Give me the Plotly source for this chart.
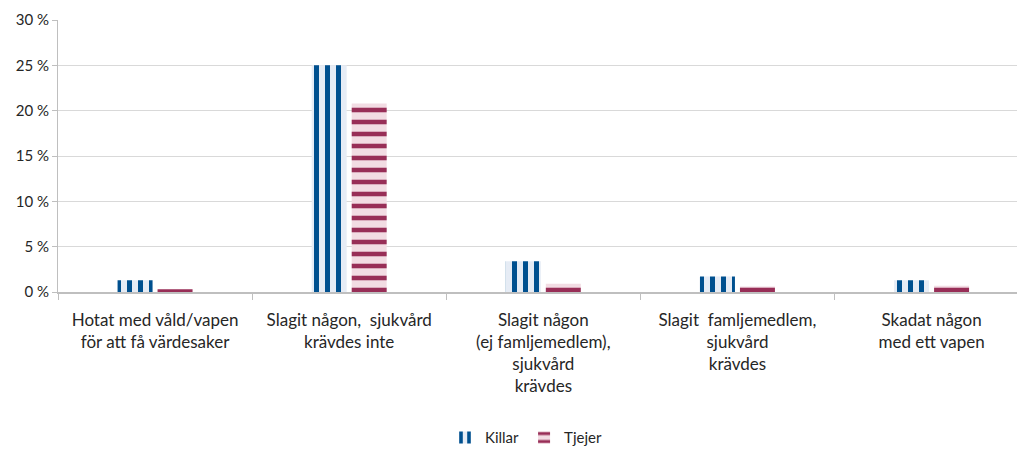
import plotly.graph_objects as go

categories = [
    "Hotat med våld/vapen<br>för att få värdesaker",
    "Slagit någon,  sjukvård<br>krävdes inte",
    "Slagit någon<br>(ej famljemedlem),<br>sjukvård<br>krävdes",
    "Slagit  famljemedlem,<br>sjukvård<br>krävdes",
    "Skadat någon<br>med ett vapen",
]
killar = [1.3, 25.0, 3.4, 1.7, 1.3]
tjejer = [0.3, 20.8, 0.9, 0.6, 0.7]
y_ticks = [0, 5, 10, 15, 20, 25, 30]
y_tick_labels = [f"{v} %" for v in y_ticks]

font_family = "Lato, 'Open Sans', sans-serif"

fig = go.Figure()
fig.add_trace(go.Bar(
    name="Killar",
    x=categories,
    y=killar,
    marker=dict(
        color="#00508F",
        line=dict(width=0),
        pattern=dict(shape="|", size=11, solidity=0.45,
                     fgcolor="#00508F", bgcolor="#E6ECF5", fillmode="replace"),
    ),
))
fig.add_trace(go.Bar(
    name="Tjejer",
    x=categories,
    y=tjejer,
    marker=dict(
        color="#982E57",
        line=dict(width=0),
        pattern=dict(shape="-", size=12, solidity=0.38,
                     fgcolor="#982E57", bgcolor="#F2DCE3", fillmode="replace"),
    ),
))

fig.update_layout(
    width=1017,
    height=455,
    margin=dict(l=58, r=0, t=20, b=159),
    paper_bgcolor="white",
    plot_bgcolor="white",
    barmode="group",
    bargap=0.588,
    bargroupgap=0.125,
    font=dict(family=font_family, size=15, color="#262626"),
    showlegend=True,
    legend=dict(
        orientation="h",
        x=0.488, xanchor="center",
        y=-0.536, yanchor="middle",
        font=dict(size=15, color="#262626"),
        itemwidth=30,
        tracegroupgap=0,
    ),
    xaxis=dict(
        range=[-0.5, 4.44],
        showline=True,
        linecolor="#BFBFBF",
        linewidth=1.5,
        ticks="outside",
        tickson="boundaries",
        ticklen=6,
        tickcolor="#BFBFBF",
        showgrid=False,
        tickfont=dict(size=17, color="#262626"),
        ticklabelstandoff=12,
        fixedrange=True,
    ),
    yaxis=dict(
        range=[0, 30],
        tickvals=y_ticks,
        ticktext=y_tick_labels,
        showline=True,
        linecolor="#BFBFBF",
        linewidth=1,
        ticks="outside",
        ticklen=5,
        tickcolor="#BFBFBF",
        showgrid=True,
        gridcolor="#D9D9D9",
        gridwidth=1,
        zeroline=False,
        tickfont=dict(size=15, color="#262626"),
        fixedrange=True,
    ),
)

fig.write_html("out.html")
